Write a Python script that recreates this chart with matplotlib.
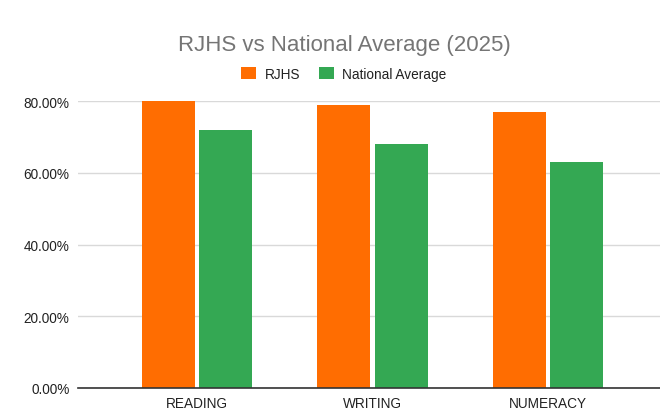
import numpy as np
import matplotlib
matplotlib.use('Agg')
import matplotlib.pyplot as plt
from matplotlib.ticker import FuncFormatter

plt.rcParams['font.family'] = ['Liberation Sans', 'DejaVu Sans']

# scores by subject, percent
subjects = ['READING', 'WRITING', 'NUMERACY']
rjhs = [80, 79, 77]
national = [72, 68, 63]
series_names = ['RJHS', 'National Average']
colors = ['#ff6d01', '#34a853']

fig = plt.figure(figsize=(6.6, 4.14), dpi=100)
ax = fig.add_axes([78 / 660, 25 / 414, 582 / 660, 287 / 414])

x = np.arange(len(subjects))
w = 0.302
gap = 0.012
ax.bar(x - w / 2 - gap, rjhs, w, color=colors[0], label=series_names[0], zorder=3)
ax.bar(x + w / 2 + gap, national, w, color=colors[1], label=series_names[1], zorder=3)

ax.set_xlim(-0.678, 2.638)
ax.set_ylim(0, 80)
ax.set_yticks([0, 20, 40, 60, 80])
ax.yaxis.set_major_formatter(FuncFormatter(lambda v, p: f'{v:.2f}%'))
ax.set_xticks(x)
ax.set_xticklabels(subjects)
ax.tick_params(axis='both', length=0, labelsize=9.8, colors='#222222')
ax.tick_params(axis='y', pad=6)
ax.tick_params(axis='x', pad=6)
ax.grid(axis='y', color='#d9d9d9', linewidth=1, zorder=0)
for s in ['top', 'right', 'left']:
    ax.spines[s].set_visible(False)
ax.spines['bottom'].set_color('#333333')
ax.spines['bottom'].set_linewidth(1.2)
ax.spines['bottom'].set_zorder(4)

fig.text(344 / 660, 1 - 45 / 414, 'RJHS vs National Average (2025)', ha='center', va='center',
         fontsize=16, color='#757575')
fig.legend(loc='center', bbox_to_anchor=(344 / 660, 1 - 75 / 414), ncol=2, frameon=False,
           fontsize=9.8, handlelength=1.1, handleheight=1.0, handletextpad=0.6,
           columnspacing=1.4, labelcolor='#222222')

fig.savefig('out.png', dpi=100, facecolor='white')
